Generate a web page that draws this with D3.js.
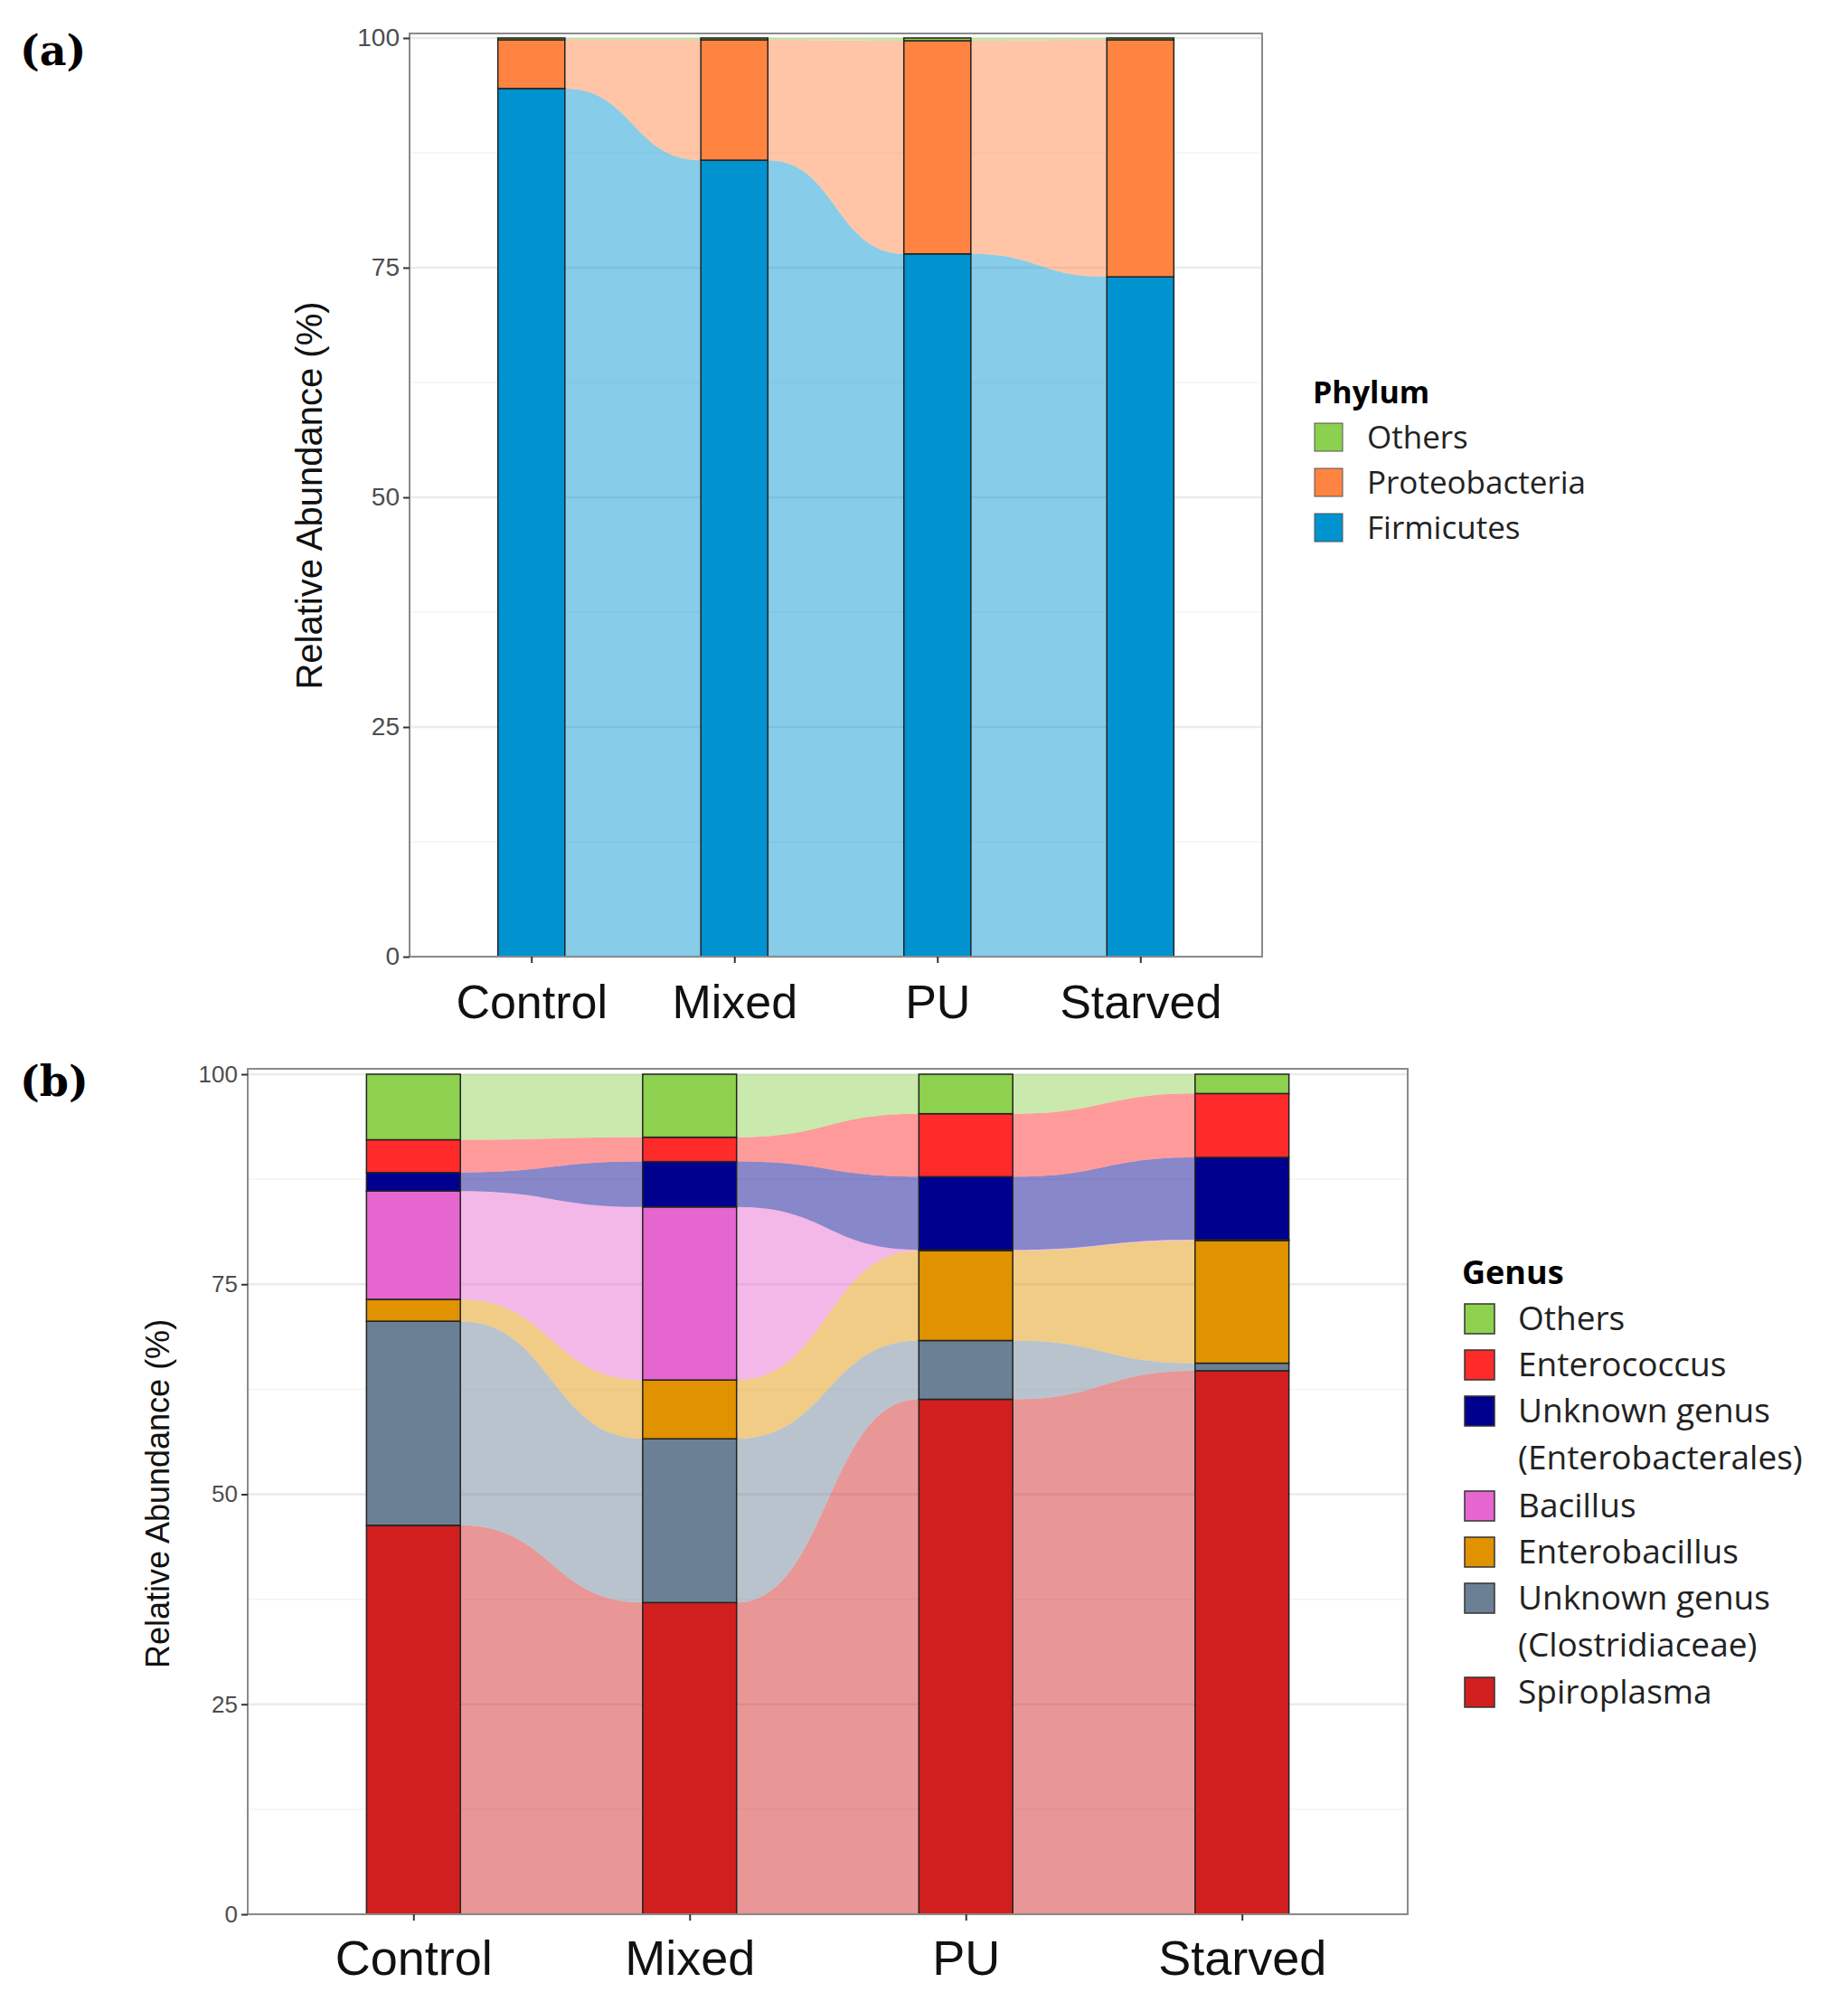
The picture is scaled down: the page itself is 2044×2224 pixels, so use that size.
<!DOCTYPE html><html><head><meta charset="utf-8">
<script src="https://cdn.jsdelivr.net/npm/d3@7"></script>
<style>body{margin:0;background:#fff}</style></head><body>
<svg id="c" width="2044" height="2224"></svg>
<script>
const categories=["Control","Mixed","PU","Starved"];
const yTicks=[0,25,50,75,100];
const phyla=["Firmicutes","Proteobacteria","Others"];
const phylaValues={Firmicutes:[94.5,86.7,76.5,74.0],Proteobacteria:[5.3,13.1,23.2,25.8],Others:[0.2,0.2,0.3,0.2]};
const phylaColors={Firmicutes:"#0093cf",Proteobacteria:"#ff8442",Others:"#8bd04e"};
const genera=["Spiroplasma","Unknown genus (Clostridiaceae)","Enterobacillus","Bacillus","Unknown genus (Enterobacterales)","Enterococcus","Others"];
const generaValues={
 "Spiroplasma":[46.3,37.1,61.3,64.7],
 "Unknown genus (Clostridiaceae)":[24.3,19.5,7.0,0.9],
 "Enterobacillus":[2.6,7.0,10.7,14.6],
 "Bacillus":[12.9,20.6,0.1,0.1],
 "Unknown genus (Enterobacterales)":[2.2,5.4,8.7,9.8],
 "Enterococcus":[3.9,2.9,7.5,7.6],
 "Others":[7.8,7.5,4.7,2.3]};
const generaColors={"Spiroplasma":"#d11f1f","Unknown genus (Clostridiaceae)":"#6b8094","Enterobacillus":"#e09200","Bacillus":"#e566cf","Unknown genus (Enterobacterales)":"#00008f","Enterococcus":"#ff2b2b","Others":"#8ed14e"};
const legendA=["Others","Proteobacteria","Firmicutes"];
const legendB=[["Others"],["Enterococcus"],["Unknown genus","(Enterobacterales)"],["Bacillus"],["Enterobacillus"],["Unknown genus","(Clostridiaceae)"],["Spiroplasma"]];
const legendBKeys=["Others","Enterococcus","Unknown genus (Enterobacterales)","Bacillus","Enterobacillus","Unknown genus (Clostridiaceae)","Spiroplasma"];

const svg=d3.select("#c");
const FONT="'Open Sans','DejaVu Sans',sans-serif";
const AFONT="'Liberation Sans',Arial,sans-serif";

function panel(o){
 const g=svg.append("g");
 const x=d3.scaleLinear().domain([0.4,4.6]).range([o.x0,o.x1]);
 const y=d3.scaleLinear().domain([0,100]).range([o.yb,o.yt]);
 const minor=[12.5,37.5,62.5,87.5];
 g.selectAll(".mn").data(minor).join("line").attr("x1",o.x0).attr("x2",o.x1).attr("y1",d=>y(d)).attr("y2",d=>y(d)).attr("stroke","#f3f3f3").attr("stroke-width",1.5);
 g.selectAll(".mj").data(yTicks).join("line").attr("x1",o.x0).attr("x2",o.x1).attr("y1",d=>y(d)).attr("y2",d=>y(d)).attr("stroke","#ebebeb").attr("stroke-width",2.5);
 const keys=o.keys, vals=o.vals, hw=o.bw/2;
 const stack=d3.stack().keys(keys)(categories.map((c,i)=>{const r={};keys.forEach(k=>r[k]=vals[k][i]);return r;}));
 const area=d3.area().curve(d3.curveBumpX).x(d=>x(d.p)).y0(d=>y(d.v0)).y1(d=>y(d.v1));
 stack.forEach(s=>{
  const pts=[];
  s.forEach((d,i)=>{pts.push({p:i+1-hw,v0:d[0],v1:d[1]});pts.push({p:i+1+hw,v0:d[0],v1:d[1]});});
  g.append("path").attr("d",area(pts)).attr("fill",o.colors[s.key]).attr("fill-opacity",0.47);
 });
 stack.forEach(s=>{
  g.selectAll(null).data(s).join("rect").attr("x",(d,i)=>x(i+1-hw)).attr("width",x(1+hw)-x(1-hw))
   .attr("y",d=>y(d[1])).attr("height",d=>y(d[0])-y(d[1])).attr("fill",o.colors[s.key]).attr("stroke","#222").attr("stroke-width",1.5);
 });
 g.append("rect").attr("x",o.x0).attr("y",o.ptop).attr("width",o.x1-o.x0).attr("height",o.yb-o.ptop).attr("fill","none").attr("stroke","#8a8a8a").attr("stroke-width",2);
 const ya=g.append("g").attr("transform",`translate(${o.x0},0)`).call(d3.axisLeft(y).tickValues(yTicks).tickSize(7).tickPadding(4));
 ya.select(".domain").remove();
 ya.selectAll("line").attr("stroke","#333").attr("stroke-width",2);
 ya.selectAll("text").attr("font-family",AFONT).attr("font-size",o.tf).attr("fill","#4d4d4d");
 const xa=g.append("g").attr("transform",`translate(0,${o.yb})`).call(d3.axisBottom(x).tickValues([1,2,3,4]).tickFormat(d=>categories[d-1]).tickSize(7).tickPadding(o.xpad));
 xa.select(".domain").remove();
 xa.selectAll("line").attr("stroke","#333").attr("stroke-width",2);
 xa.selectAll("text").attr("font-family",AFONT).attr("font-size",o.xf).attr("fill","#111");
 g.append("text").attr("transform",`translate(${o.ylx},${o.ylc}) rotate(-90)`).attr("text-anchor","middle").attr("font-family",AFONT).attr("font-size",o.ylf).attr("fill","#111").text("Relative Abundance (%)");
 g.append("text").attr("x",22).attr("y",o.tagY).attr("font-family","'DejaVu Serif','Liberation Serif',serif").attr("font-weight","bold").attr("font-size",46).text(o.tag);
}
panel({x0:453,x1:1396,yt:42,yb:1058,ptop:37,bw:0.33,keys:phyla,vals:phylaValues,colors:phylaColors,tf:28,xf:52,xpad:24,ylx:356,ylc:548,ylf:40,tag:"(a)",tagY:72});
panel({x0:274,x1:1557,yt:1188,yb:2117,ptop:1182,bw:0.34,keys:genera,vals:generaValues,colors:generaColors,tf:26,xf:54,xpad:22,ylx:187,ylc:1652,ylf:36,tag:"(b)",tagY:1212});

const la=svg.append("g");
la.append("text").attr("x",1452).attr("y",446).attr("font-family",FONT).attr("font-weight","bold").attr("font-size",34).text("Phylum");
legendA.forEach((k,i)=>{const yy=484+i*50;
 la.append("rect").attr("x",1454).attr("y",yy-16).attr("width",31).attr("height",31).attr("fill",phylaColors[k]).attr("stroke","#555").attr("stroke-width",1);
 la.append("text").attr("x",1512).attr("y",yy+12).attr("font-family",FONT).attr("font-size",35).attr("fill","#222").text(k);});
const lb=svg.append("g");
lb.append("text").attr("x",1617).attr("y",1420).attr("font-family",FONT).attr("font-weight","bold").attr("font-size",36).text("Genus");
const rowsY=[1458,1509,1560,1665,1716,1767,1871];
legendB.forEach((lines,i)=>{const yy=rowsY[i];
 lb.append("rect").attr("x",1620).attr("y",yy-16).attr("width",33).attr("height",33).attr("fill",generaColors[legendBKeys[i]]).attr("stroke","#333").attr("stroke-width",1.5);
 lines.forEach((t,j)=>lb.append("text").attr("x",1679).attr("y",yy+13+j*52).attr("font-family",FONT).attr("font-size",37).attr("fill","#222").text(t));});
</script></body></html>
